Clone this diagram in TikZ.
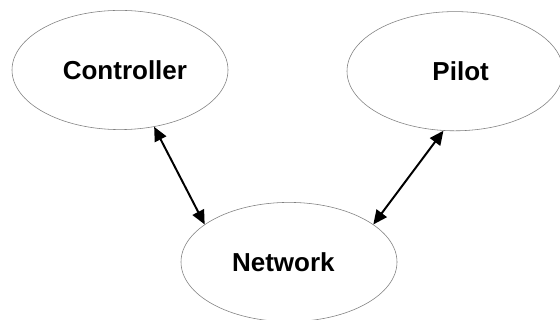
\documentclass[tikz,border=0pt]{standalone}
\usepackage{fontspec}
\setmainfont{Liberation Sans}
\usetikzlibrary{shapes.geometric,arrows.meta}
\definecolor{rim}{HTML}{7F7F7F}

\tikzset{
  party/.style={ellipse, draw=rim, line width=0.4pt, inner sep=0pt,
    minimum width=5.4cm, minimum height=2.98cm,
    font=\fontsize{18.5}{22}\selectfont\bfseries},
  link/.style={{Triangle[length=10pt,width=9pt]}-{Triangle[length=10pt,width=9pt]}, line width=1.4pt}
}

\begin{document}
\begin{tikzpicture}
\fill[white] (0,0) rectangle (14,8);
\useasboundingbox (0,0) rectangle (14,8);
\node[party] (ctrl) at (3.0,6.25) {\hspace*{7pt}Controller};
\node[party] (pilot) at (11.375,6.22) {\hspace*{8pt}Pilot};
\node[party] (net) at (7.225,1.45) {Network\hspace*{8pt}};
\draw[link] (ctrl.-59) -- (net.156);
\draw[link] (pilot.-101) -- (net.24);
\end{tikzpicture}
\end{document}
